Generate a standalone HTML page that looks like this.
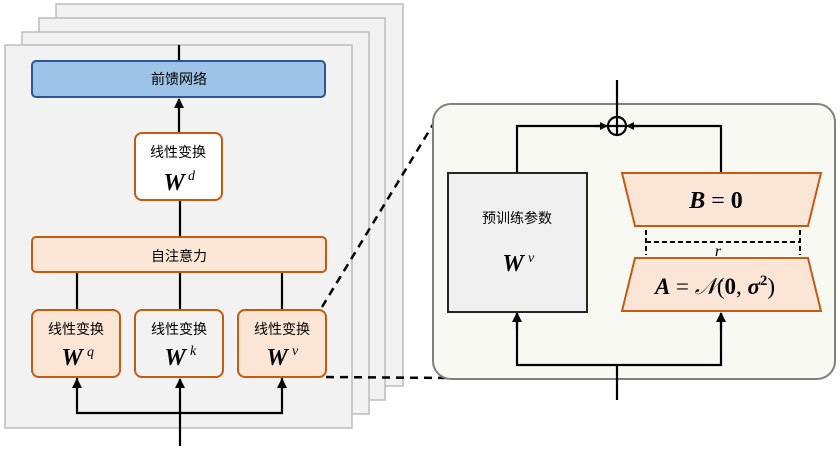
<!DOCTYPE html>
<html><head><meta charset="utf-8"><style>
body{margin:0;background:#fff}
svg text{font-family:"Liberation Sans","Noto Sans CJK SC",sans-serif}
svg text.m{font-family:"Liberation Serif",serif;font-weight:bold;font-style:italic}
svg text.s{font-family:"Liberation Serif",serif;font-style:italic}
svg text.f{font-family:"Liberation Serif","DejaVu Serif",serif}
</style></head><body>
<svg width="840" height="446" viewBox="0 0 840 446" xmlns="http://www.w3.org/2000/svg">
<defs><marker id="a" markerWidth="8" markerHeight="8" refX="7" refY="4" orient="auto" markerUnits="userSpaceOnUse"><path d="M0,0 L8,4 L0,8 z" fill="#000"/></marker>
<marker id="b" markerWidth="10" markerHeight="10" refX="9" refY="5" orient="auto" markerUnits="userSpaceOnUse"><path d="M0,0 L10,5 L0,10 z" fill="#000"/></marker></defs>
<g fill="#f2f2f2" stroke="#bdbdbd" stroke-width="1.5">
<rect x="56" y="4" width="347" height="382"/>
<rect x="39" y="18" width="346" height="382"/>
<rect x="22" y="32" width="347" height="382"/>
<rect x="5" y="45" width="347" height="383"/>
</g>
<g stroke="#000" stroke-width="2.2" fill="none">
<line x1="179" y1="45" x2="179" y2="61"/>
<line x1="179" y1="133" x2="179" y2="99" marker-end="url(#b)"/>
<line x1="180" y1="200" x2="180" y2="237"/>
<line x1="77" y1="272" x2="77" y2="310"/>
<line x1="180" y1="272" x2="180" y2="310"/>
<line x1="282" y1="272" x2="282" y2="310"/>
<path d="M77,378 V413 H282 V378"/>
<line x1="77" y1="390" x2="77" y2="379" marker-end="url(#b)"/>
<line x1="282" y1="390" x2="282" y2="379" marker-end="url(#b)"/>
<line x1="180" y1="446" x2="180" y2="379" marker-end="url(#b)"/>
</g>
<rect x="32" y="61" width="293" height="36" rx="4" fill="#9dc3e6" stroke="#2f5597" stroke-width="2"/>
<text x="179" y="84" font-size="14" text-anchor="middle">前馈网络</text>
<rect x="135" y="133" width="87" height="67" rx="7" fill="#fff" stroke="#c55a11" stroke-width="2"/>
<text x="178" y="157" font-size="14" text-anchor="middle">线性变换</text>
<text x="174" y="190" font-size="24" class="m" text-anchor="middle">W</text><text x="188" y="180" font-size="14" class="s">d</text>
<rect x="32" y="237" width="294" height="35" rx="4" fill="#fbe5d6" stroke="#c55a11" stroke-width="2"/>
<text x="179" y="261" font-size="14" text-anchor="middle">自注意力</text>
<g stroke="#c55a11" stroke-width="2">
<rect x="32" y="310" width="88" height="67" rx="7" fill="#fbe5d6"/>
<rect x="135" y="310" width="88" height="67" rx="7" fill="#f2f2f2"/>
<rect x="238" y="310" width="88" height="67" rx="7" fill="#fbe5d6"/>
</g>
<g font-size="14" text-anchor="middle">
<text x="76" y="334">线性变换</text><text x="179" y="334">线性变换</text><text x="282" y="334">线性变换</text></g>
<text x="72" y="365" font-size="24" class="m" text-anchor="middle">W</text><text x="87" y="356" font-size="14" class="s">q</text>
<text x="175" y="365" font-size="24" class="m" text-anchor="middle">W</text><text x="190" y="355" font-size="14" class="s">k</text>
<text x="277" y="365" font-size="24" class="m" text-anchor="middle">W</text><text x="292" y="355" font-size="14" class="s">v</text>
<g stroke="#000" stroke-width="2.5" stroke-dasharray="8,6" fill="none">
<line x1="322" y1="307" x2="437" y2="118"/>
<line x1="326" y1="377" x2="448" y2="378"/>
</g>
<rect x="433" y="104" width="402" height="275" rx="18" fill="#f9f9f4" stroke="#808080" stroke-width="2"/>
<g stroke="#000" stroke-width="2.2" fill="none">
<line x1="617" y1="80" x2="617" y2="117"/>
<path d="M517,173 V126 H600"/><line x1="595" y1="126" x2="607" y2="126" marker-end="url(#a)"/>
<path d="M721,173 V126 H634"/><line x1="640" y1="126" x2="627" y2="126" marker-end="url(#a)"/>
<circle cx="617" cy="126" r="9" fill="#fff"/>
<line x1="608" y1="126" x2="626" y2="126"/><line x1="617" y1="117" x2="617" y2="135"/>
<path d="M517,313 V365 H721 V313"/>
<line x1="617" y1="400" x2="617" y2="365"/>
<line x1="517" y1="330" x2="517" y2="313" marker-end="url(#b)"/>
<line x1="721" y1="330" x2="721" y2="313" marker-end="url(#b)"/>
</g>
<rect x="448" y="173" width="139" height="139" fill="#f0f0f0" stroke="#262626" stroke-width="2"/>
<text x="517" y="223" font-size="14" text-anchor="middle">预训练参数</text>
<text x="513" y="271" font-size="24" class="m" text-anchor="middle">W</text><text x="528" y="262" font-size="14" class="s">v</text>
<g fill="#fbe5d6" stroke="#c55a11" stroke-width="2">
<path d="M622,173 H821 L808,226 H635 Z"/>
<path d="M635,258 H808 L821,311 H622 Z"/>
</g>
<text x="716" y="208" font-size="24" text-anchor="middle" class="f"><tspan font-weight="bold" font-style="italic">B</tspan> = <tspan font-weight="bold">0</tspan></text>
<text x="715" y="294" font-size="23" text-anchor="middle" class="f"><tspan font-weight="bold" font-style="italic">A</tspan> = <tspan font-style="italic">𝒩</tspan>(<tspan font-weight="bold">0</tspan>, <tspan font-weight="bold" font-style="italic">σ</tspan><tspan font-weight="bold" font-size="15" dy="-9">2</tspan><tspan dy="9">)</tspan></text>
<g stroke="#000" stroke-width="2" stroke-dasharray="5,3" fill="none">
<line x1="646" y1="230" x2="646" y2="255"/><line x1="800" y1="230" x2="800" y2="255"/>
<line x1="646" y1="242" x2="800" y2="242"/></g>
<text x="718" y="256" font-size="16" class="s" text-anchor="middle">r</text>
</svg>
</body></html>
